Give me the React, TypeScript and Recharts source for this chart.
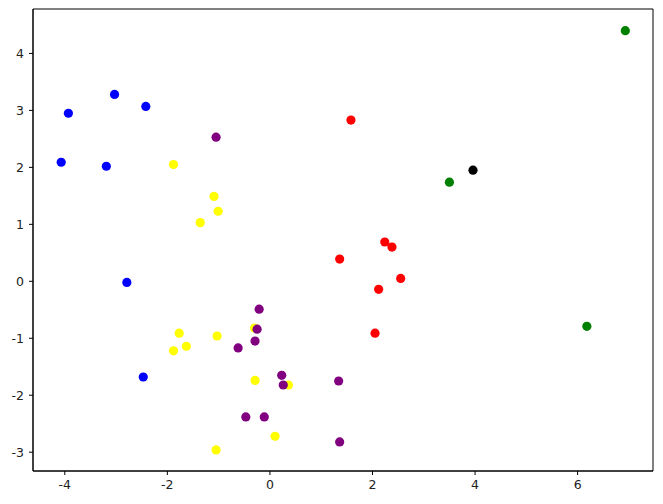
import React from 'react';
import { ScatterChart, Scatter, XAxis, YAxis, ReferenceArea } from 'recharts';

// points per colour group
const bluePoints = [
  { x: -3.93, y: 2.95 },
  { x: -3.03, y: 3.28 },
  { x: -2.42, y: 3.07 },
  { x: -4.07, y: 2.09 },
  { x: -3.19, y: 2.02 },
  { x: -2.79, y: -0.02 },
  { x: -2.47, y: -1.68 },
];

const yellowPoints = [
  { x: -1.88, y: 2.05 },
  { x: -1.09, y: 1.49 },
  { x: -1.01, y: 1.23 },
  { x: -1.36, y: 1.03 },
  { x: -1.77, y: -0.91 },
  { x: -1.63, y: -1.14 },
  { x: -1.88, y: -1.22 },
  { x: -1.03, y: -0.96 },
  { x: -0.3, y: -0.82 },
  { x: -0.29, y: -1.74 },
  { x: 0.36, y: -1.82 },
  { x: 0.1, y: -2.72 },
  { x: -1.05, y: -2.96 },
];

const purplePoints = [
  { x: -1.05, y: 2.53 },
  { x: -0.21, y: -0.49 },
  { x: -0.25, y: -0.84 },
  { x: -0.29, y: -1.05 },
  { x: -0.62, y: -1.17 },
  { x: 0.23, y: -1.65 },
  { x: 0.26, y: -1.82 },
  { x: 1.34, y: -1.75 },
  { x: -0.47, y: -2.38 },
  { x: -0.11, y: -2.38 },
  { x: 1.36, y: -2.82 },
];

const redPoints = [
  { x: 1.58, y: 2.83 },
  { x: 1.36, y: 0.39 },
  { x: 2.24, y: 0.69 },
  { x: 2.38, y: 0.6 },
  { x: 2.55, y: 0.05 },
  { x: 2.12, y: -0.14 },
  { x: 2.05, y: -0.91 },
];

const greenPoints = [
  { x: 6.93, y: 4.4 },
  { x: 3.5, y: 1.74 },
  { x: 6.18, y: -0.79 },
];

const blackPoints = [{ x: 3.96, y: 1.95 }];

const xTicks = [-4, -2, 0, 2, 4, 6];
const yTicks = [-3, -2, -1, 0, 1, 2, 3, 4];
const xDomain = [-4.62, 7.47];
const yDomain = [-3.33, 4.78];

const groups = [
  { name: 'blue', color: '#0000ff', data: bluePoints },
  { name: 'yellow', color: '#ffff00', data: yellowPoints },
  { name: 'purple', color: '#800080', data: purplePoints },
  { name: 'red', color: '#ff0000', data: redPoints },
  { name: 'green', color: '#008000', data: greenPoints },
  { name: 'black', color: '#000000', data: blackPoints },
];

const tickStyle = { fontSize: 12.5, fill: '#222', fontFamily: 'DejaVu Sans, sans-serif' };

const dot = (color: string) => (props: any) => (
  <circle cx={props.cx} cy={props.cy} r={4.6} fill={color} />
);

export default function App() {
  return (
    <div style={{ position: 'absolute', left: 0, top: 0, width: 663, height: 504, background: '#fff' }}>
      <ScatterChart width={663} height={504} margin={{ top: 9, right: 10, bottom: 0, left: 0 }}>
        <XAxis
          type="number"
          dataKey="x"
          domain={xDomain}
          ticks={xTicks}
          allowDataOverflow
          height={33}
          tickSize={4}
          tickMargin={5}
          stroke="#000"
          tick={tickStyle}
        />
        <YAxis
          type="number"
          dataKey="y"
          domain={yDomain}
          ticks={yTicks}
          allowDataOverflow
          width={33}
          tickSize={4}
          tickMargin={5}
          stroke="#000"
          tick={tickStyle}
        />
        {/* frame around the plot area */}
        <ReferenceArea
          x1={xDomain[0]}
          x2={xDomain[1]}
          y1={yDomain[0]}
          y2={yDomain[1]}
          fill="none"
          fillOpacity={0}
          stroke="#000"
          strokeWidth={1}
        />
        {groups.map((g) => (
          <Scatter
            key={g.name}
            name={g.name}
            data={g.data}
            fill={g.color}
            shape={dot(g.color)}
            isAnimationActive={false}
          />
        ))}
      </ScatterChart>
    </div>
  );
}
